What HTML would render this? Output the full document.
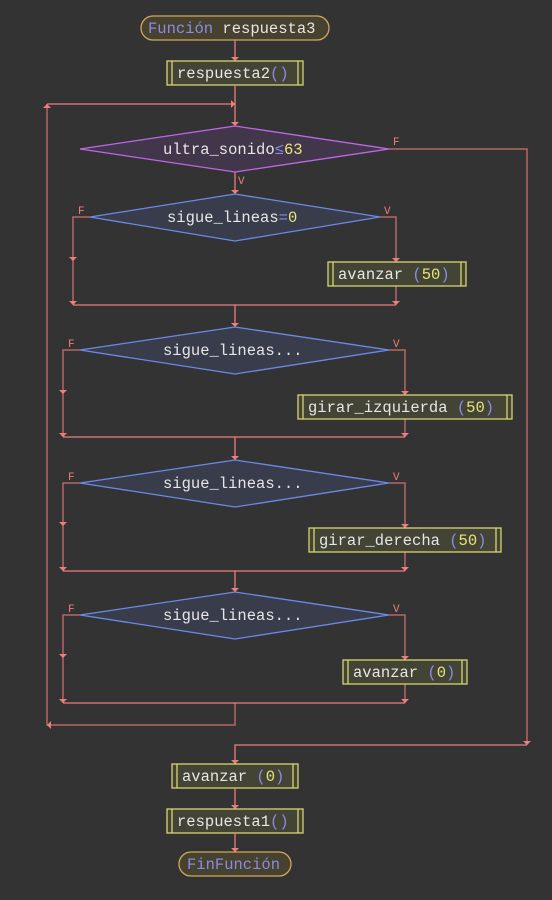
<!DOCTYPE html>
<html><head><meta charset="utf-8"><style>
html,body{margin:0;padding:0;background:#333333;}
svg{display:block}
text{font-family:"Liberation Mono",monospace;font-size:15.5px;fill:#e6e6e6;}
.b{fill:#8a8ae6}.y{fill:#e6e67a}
.l{fill:none;stroke:#ee7d7d;stroke-width:1.3}
.lb{fill:none;stroke:#b86666;stroke-width:1.5}
.lab{font-size:11px;fill:#ee7d7d}
.box{fill:#444436;stroke:#d6d66e;stroke-width:1.3}
.dp{fill:#41364a;stroke:#c066e6;stroke-width:1.3}
.db{fill:#393c4a;stroke:#6a8ae6;stroke-width:1.3}
.term{fill:#47412f;stroke:#d0a85a;stroke-width:1.3}
</style></head><body>
<svg width="552" height="900" viewBox="0 0 552 900" xmlns="http://www.w3.org/2000/svg">
<defs>
<marker id="a" markerWidth="8" markerHeight="6" refX="4" refY="5" orient="auto-start-reverse" markerUnits="userSpaceOnUse" viewBox="0 0 8 6">
</marker>
</defs>
<g id="arrows" fill="#ee7d7d"></g>

<!-- start -->
<rect class="term" x="141" y="16" width="188" height="24" rx="12"/>
<text x="148" y="33"><tspan class="b">Función</tspan> respuesta3</text>
<path class="l" d="M235 40 V61"/>
<polygon fill="#ee7d7d" points="231,57 239,57 235,61"/>
<!-- respuesta2 -->
<rect class="box" x="167" y="61" width="136" height="24"/>
<path class="box" d="M172 61 V85 M298 61 V85" fill="none"/>
<text x="177" y="78">respuesta2<tspan class="b">()</tspan></text>
<path class="l" d="M235 85 V126"/>
<polygon fill="#ee7d7d" points="231,122 239,122 235,126"/>
<!-- loop back -->
<path class="lb" d="M235 703 V725 H47 V104"/>
<path class="l" d="M47 104 H235"/>
<polygon fill="#ee7d7d" points="43,108 51,108 47,104"/>
<polygon fill="#ee7d7d" points="231,100 231,108 235,104"/>
<polygon fill="#ee7d7d" points="51,721 51,729 47,725"/>

<!-- diamond 1 -->
<polygon class="dp" points="80,149 235,126 389,149 235,172"/>
<text x="163" y="154">ultra_sonido<tspan class="b">≤</tspan><tspan class="y">63</tspan></text>
<text class="lab" x="393" y="145">F</text>
<text class="lab" x="238" y="184">V</text>
<path class="lb" d="M389 149 H527 V745"/>
<path class="l" d="M527 745 H235 V764"/>
<polygon fill="#ee7d7d" points="523,741 531,741 527,745"/>
<polygon fill="#ee7d7d" points="231,760 239,760 235,764"/>
<path class="l" d="M235 172 V194"/>
<polygon fill="#ee7d7d" points="231,190 239,190 235,194"/>

<!-- block 1 -->
<polygon class="db" points="90,217 235,194 380,217 235,241"/>
<text x="167" y="222">sigue_lineas<tspan class="b">=</tspan><tspan class="y">0</tspan></text>
<text class="lab" x="78" y="214">F</text>
<text class="lab" x="384" y="214">V</text>
<path class="lb" d="M90 217 H73 V305 M380 217 H396 V262 M396 286 V305"/>
<polygon fill="#ee7d7d" points="69,257 77,257 73,261"/>
<polygon fill="#ee7d7d" points="69,301 77,301 73,305"/>
<polygon fill="#ee7d7d" points="392,258 400,258 396,262"/>
<polygon fill="#ee7d7d" points="392,301 400,301 396,305"/>
<rect class="box" x="328" y="262" width="138" height="24"/>
<path class="box" d="M333 262 V286 M461 262 V286" fill="none"/>
<text x="338" y="279">avanzar <tspan class="b">(</tspan><tspan class="y">50</tspan><tspan class="b">)</tspan></text>
<path class="l" d="M73 305 H396 M235 305 V327"/>
<polygon fill="#ee7d7d" points="231,323 239,323 235,327"/>

<!-- block 2 -->
<polygon class="db" points="80,350 235,327 389,350 235,374"/>
<text x="163" y="355">sigue_lineas...</text>
<text class="lab" x="68" y="347">F</text>
<text class="lab" x="393" y="347">V</text>
<path class="lb" d="M80 350 H63 V437 M389 350 H405 V395 M405 419 V437"/>
<polygon fill="#ee7d7d" points="59,390 67,390 63,394"/>
<polygon fill="#ee7d7d" points="59,433 67,433 63,437"/>
<polygon fill="#ee7d7d" points="401,391 409,391 405,395"/>
<polygon fill="#ee7d7d" points="401,433 409,433 405,437"/>
<rect class="box" x="298" y="395" width="214" height="24"/>
<path class="box" d="M303 395 V419 M507 395 V419" fill="none"/>
<text x="308" y="412">girar_izquierda <tspan class="b">(</tspan><tspan class="y">50</tspan><tspan class="b">)</tspan></text>
<path class="l" d="M63 437 H405 M235 437 V460"/>
<polygon fill="#ee7d7d" points="231,456 239,456 235,460"/>

<!-- block 3 -->
<polygon class="db" points="80,483 235,460 389,483 235,507"/>
<text x="163" y="488">sigue_lineas...</text>
<text class="lab" x="68" y="480">F</text>
<text class="lab" x="393" y="480">V</text>
<path class="lb" d="M80 483 H63 V571 M389 483 H405 V528 M405 552 V571"/>
<polygon fill="#ee7d7d" points="59,522 67,522 63,526"/>
<polygon fill="#ee7d7d" points="59,567 67,567 63,571"/>
<polygon fill="#ee7d7d" points="401,524 409,524 405,528"/>
<polygon fill="#ee7d7d" points="401,567 409,567 405,571"/>
<rect class="box" x="309" y="528" width="192" height="24"/>
<path class="box" d="M314 528 V552 M496 528 V552" fill="none"/>
<text x="319" y="545">girar_derecha <tspan class="b">(</tspan><tspan class="y">50</tspan><tspan class="b">)</tspan></text>
<path class="l" d="M63 571 H405 M235 571 V592"/>
<polygon fill="#ee7d7d" points="231,588 239,588 235,592"/>

<!-- block 4 -->
<polygon class="db" points="80,615 235,592 389,615 235,639"/>
<text x="163" y="620">sigue_lineas...</text>
<text class="lab" x="68" y="612">F</text>
<text class="lab" x="393" y="612">V</text>
<path class="lb" d="M80 615 H63 V703 M389 615 H405 V660 M405 684 V703"/>
<polygon fill="#ee7d7d" points="59,654 67,654 63,658"/>
<polygon fill="#ee7d7d" points="59,699 67,699 63,703"/>
<polygon fill="#ee7d7d" points="401,656 409,656 405,660"/>
<polygon fill="#ee7d7d" points="401,699 409,699 405,703"/>
<rect class="box" x="343" y="660" width="124" height="24"/>
<path class="box" d="M348 660 V684 M462 660 V684" fill="none"/>
<text x="353" y="677">avanzar <tspan class="b">(</tspan><tspan class="y">0</tspan><tspan class="b">)</tspan></text>
<path class="l" d="M63 703 H405"/>

<!-- tail -->
<rect class="box" x="172" y="764" width="126" height="24"/>
<path class="box" d="M177 764 V788 M293 764 V788" fill="none"/>
<text x="182" y="781">avanzar <tspan class="b">(</tspan><tspan class="y">0</tspan><tspan class="b">)</tspan></text>
<path class="l" d="M235 788 V809"/>
<polygon fill="#ee7d7d" points="231,805 239,805 235,809"/>
<rect class="box" x="167" y="809" width="136" height="24"/>
<path class="box" d="M172 809 V833 M298 809 V833" fill="none"/>
<text x="177" y="826">respuesta1<tspan class="b">()</tspan></text>
<path class="l" d="M235 833 V852"/>
<polygon fill="#ee7d7d" points="231,848 239,848 235,852"/>
<rect class="term" x="179" y="852" width="112" height="24" rx="12"/>
<text x="187" y="869" class="b">FinFunción</text>
</svg>
</body></html>
